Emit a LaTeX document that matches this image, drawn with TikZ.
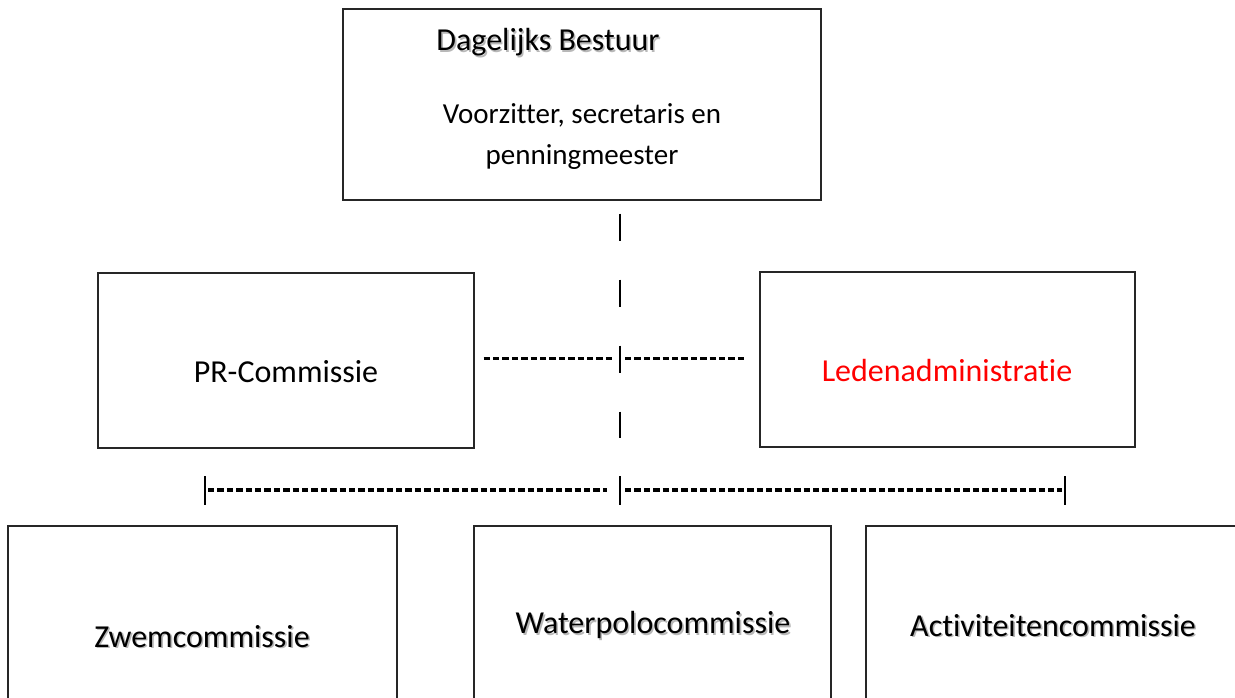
\documentclass[tikz,border=0pt]{standalone}
\usepackage{fontspec}
\setmainfont{Carlito}[Ligatures={NoCommon}]
\usetikzlibrary{positioning,calc}

% lichte schaduw achter de tekst
\newcommand{\schaduw}[1]{\rlap{\textcolor{black!28}{\kern0.8pt\raisebox{-0.8pt}{#1}}}#1}

\begin{document}
\begin{tikzpicture}[
        x=0.5pt, y=-0.5pt, % werken in pixels van het origineel
        vak/.style={draw=black!85, line width=0.65pt, inner sep=0pt},
        tekst/.style={font=\fontsize{16}{19}\selectfont, inner sep=0pt},
        balk/.style={line width=1.3pt},
        streep/.style={line width=1.6pt, dash pattern=on 3.2pt off 1.5pt}
    ]

        % --- KADER ---
        \useasboundingbox (0,0) rectangle (1235,697);
        \clip (0,0) rectangle (1235,697);

        % --- VAKKEN ---
        \node[vak, minimum width=239pt, minimum height=95.5pt] (bestuur) at (582,104.5) {};
        \node[vak, minimum width=188pt, minimum height=87.5pt] (pr) at (286,360.5) {};
        \node[vak, minimum width=187.5pt, minimum height=87.5pt] (leden) at (947.5,359.5) {};
        \node[vak, minimum width=194.5pt, minimum height=117pt] (zwem) at (202.5,643) {};
        \node[vak, minimum width=178.5pt, minimum height=117pt] (waterpolo) at (652.5,643) {};
        \node[vak, minimum width=197pt, minimum height=117pt] (activiteiten) at (1063,643) {};

        % --- TEKSTEN ---
        \node[tekst] (titel) at (548,43) {\schaduw{Dagelijks Bestuur}};
        \node[tekst, align=center, font=\fontsize{14.5}{20.5}\selectfont] (leden-db) at (582,137)
            {Voorzitter, secretaris en\\penningmeester};
        \node[tekst] (pr-tekst) at (286,372) {PR-Commissie};
        \node[tekst, text=red] (leden-tekst) at (947,370) {Ledenadministratie};
        \node[tekst] (zwem-tekst) at (202,637) {\schaduw{Zwemcommissie}};
        \node[tekst] (waterpolo-tekst) at (653,626) {\schaduw{Waterpolocommissie}};
        \node[tekst] (activiteiten-tekst) at (1053,626) {\schaduw{Activiteitencommissie}};

        % --- VERBINDINGEN ---
        \coordinate (links) at (205,490);
        \coordinate (knoop) at (620,490);
        \coordinate (rechts) at (1065,490);
        \coordinate (midden) at ([yshift=1pt]pr.east -| knoop);

        % verticale lijn vanaf het bestuur
        \draw[balk, dash pattern=on 13.5pt off 19.5pt]
            ([yshift=-6.5pt]bestuur.south -| knoop) -- ([yshift=26pt]knoop);

        % horizontale lijn tussen PR en ledenadministratie
        \draw[streep, shorten <=4.5pt, shorten >=3.5pt] ([yshift=1pt]pr.east) -- (midden);
        \draw[streep, shorten <=2.5pt, shorten >=7.5pt] (midden) -- (midden -| leden.west);

        % onderste lijn met de drie streepjes
        \foreach \p in {links,knoop,rechts}
            \draw[balk] ([yshift=7pt]\p) -- ([yshift=-7.5pt]\p);
        \draw[streep, shorten <=1.5pt, shorten >=6.5pt] (links) -- (knoop);
        \draw[streep, shorten <=2.5pt, shorten >=1.5pt] (knoop) -- (rechts);

    \end{tikzpicture}
\end{document}
